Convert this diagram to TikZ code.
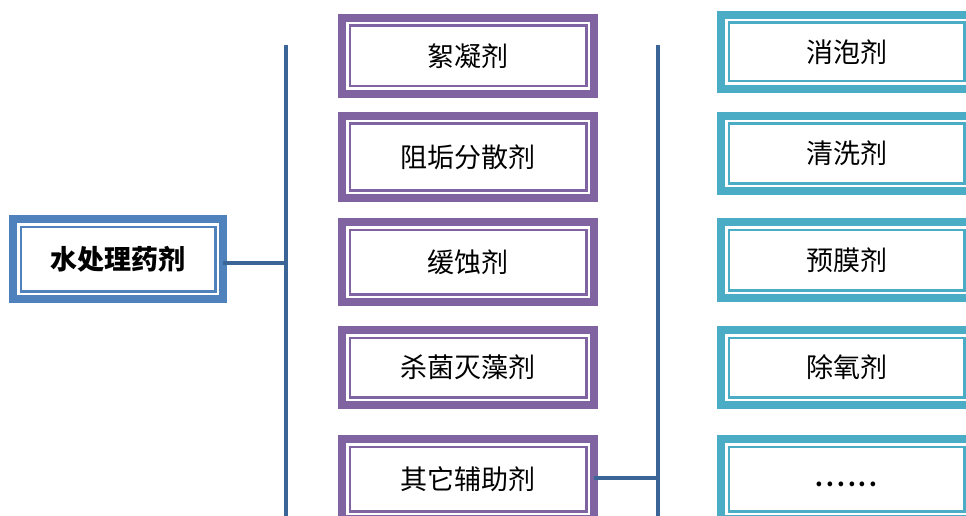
\documentclass[tikz,border=0pt]{standalone}
\usepackage{fontspec}
\newfontfamily\cjk{Noto Sans CJK SC}
\definecolor{bluebox}{HTML}{4F81BD}
\definecolor{purpbox}{HTML}{8064A2}
\definecolor{aquabox}{HTML}{4BACC6}
\definecolor{trunkcol}{HTML}{3B6497}
\tikzset{
  box/.style={rectangle, draw=#1, line width=8pt, fill=white, outer sep=0pt, inner sep=0pt,
    font=\cjk\fontsize{27}{30}\selectfont, text=black,
    path picture={\draw[#1, line width=2.5pt]
      ([shift={(7.75pt,-7.75pt)}]path picture bounding box.north west) rectangle
      ([shift={(-7.75pt,7.75pt)}]path picture bounding box.south east);}},
  midbox/.style={box=purpbox, minimum width=252pt},
  rightbox/.style={box=aquabox, minimum width=251pt},
  trunk/.style={draw=trunkcol, line width=3.5pt}
}
\begin{document}
\begin{tikzpicture}[x=1pt,y=-1pt]
\useasboundingbox (0,0) rectangle (966,516);
\node[box=bluebox, minimum width=210pt, minimum height=80pt, font=\cjk\bfseries\fontsize{27}{30}\selectfont] (L) at (118,259) {水处理药剂};
\node[midbox, minimum height=76pt] (m1) at (468,56) {絮凝剂};
\node[midbox, minimum height=82pt] (m2) at (468,157) {阻垢分散剂};
\node[midbox, minimum height=80pt] (m3) at (468,262) {缓蚀剂};
\node[midbox, minimum height=75pt] (m4) at (468,367.5) {杀菌灭藻剂};
\node[midbox, minimum height=80pt] (m5) at (468,479) {其它辅助剂};
\node[rightbox, minimum height=74pt] (r1) at (846.5,52) {消泡剂};
\node[rightbox, minimum height=75pt] (r2) at (846.5,153.5) {清洗剂};
\node[rightbox, minimum height=76pt] (r3) at (846.5,260) {预膜剂};
\node[rightbox, minimum height=75pt] (r4) at (846.5,367.5) {除氧剂};
\node[rightbox, minimum height=80pt, font=\cjk\bfseries\fontsize{22}{26}\selectfont] (r5) at (846.5,479) {\raisebox{-16pt}{.\kern3pt.\kern3pt.\kern3pt.\kern3pt.\kern3pt.}};
\coordinate (t1a) at (286,45);
\coordinate (t1b) at (286,520);
\coordinate (t2a) at (658,45);
\coordinate (t2b) at (658,520);
\draw[trunk] (t1a) -- (t1b);
\draw[trunk] (t2a) -- (t2b);
\draw[trunk] ([yshift=-4pt]L.east) -- ([yshift=-4pt]L.east -| t1a);
\draw[trunk] ([yshift=1pt]m5.east) -- ([yshift=1pt]m5.east -| t2a);
\end{tikzpicture}
\end{document}
